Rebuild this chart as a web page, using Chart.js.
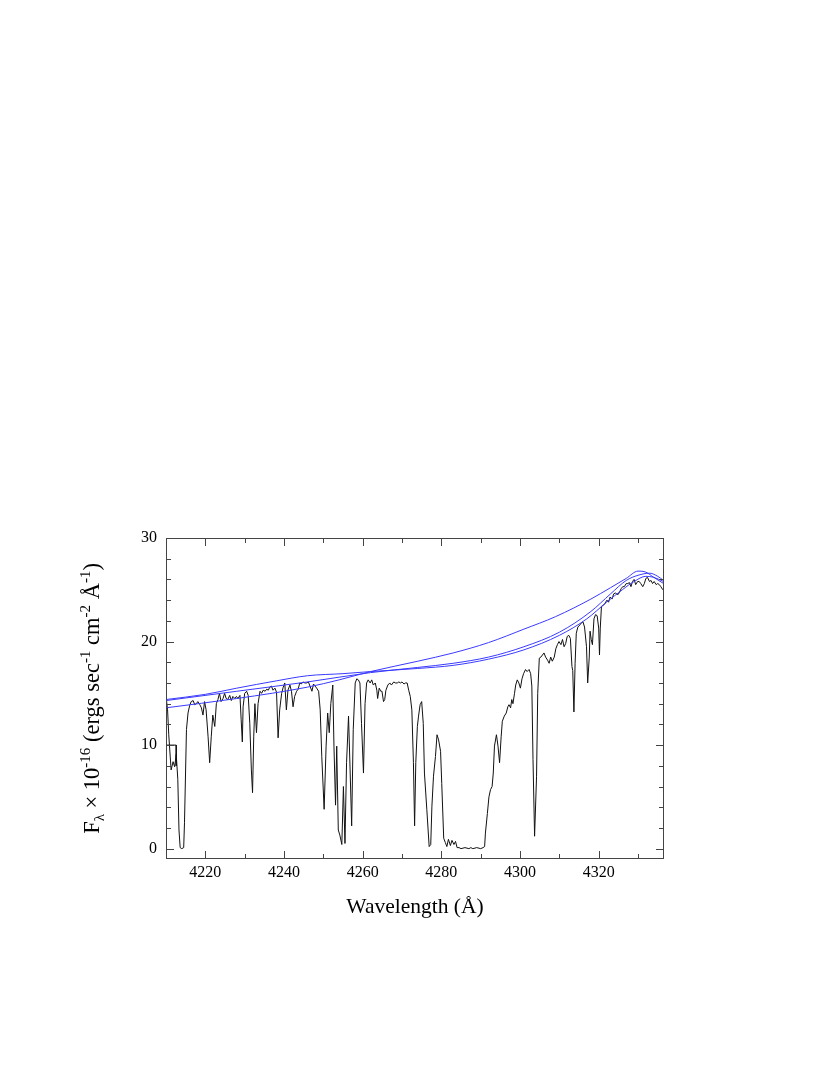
<!DOCTYPE html>
<html>
<head>
<meta charset="utf-8">
<script src="https://cdn.jsdelivr.net/npm/chart.js@4.4.0/dist/chart.umd.min.js"></script>
<style>
html,body{margin:0;padding:0;background:#fff;}
canvas{display:block;}
</style>
</head>
<body>
<canvas id="c" width="830" height="1075"></canvas>
<script>
// ---- Observed spectrum (wavelength in Å, flux ×1e-16) ----
const specWave = [4210.1,4210.4,4210.7,4211.3,4211.8,4212.2,4212.6,4213.0,4213.3,4213.6,4214.0,4214.5,4214.7,4215.2,4215.6,4216.0,4216.4,4216.9,4217.3,4217.7,4218.1,4218.6,4219.0,4219.4,4219.8,4220.2,4220.7,4221.1,4221.5,4221.9,4222.4,4222.8,4223.2,4223.6,4224.0,4224.5,4224.9,4225.3,4225.7,4226.2,4226.6,4227.0,4227.5,4227.9,4228.3,4228.8,4229.1,4229.4,4229.6,4230.0,4230.5,4230.9,4231.3,4231.7,4232.0,4232.3,4232.6,4233.0,4233.4,4233.9,4234.3,4234.7,4235.2,4235.6,4236.0,4236.4,4236.8,4237.2,4237.7,4238.1,4238.5,4238.9,4239.4,4239.8,4240.2,4240.6,4241.0,4241.5,4241.9,4242.3,4242.7,4243.2,4243.6,4244.0,4244.4,4244.8,4245.3,4245.7,4246.2,4246.6,4247.1,4247.5,4247.9,4248.3,4248.8,4249.2,4249.6,4250.2,4250.7,4251.1,4251.5,4251.9,4252.4,4252.7,4253.1,4253.4,4253.8,4254.2,4254.7,4255.1,4255.5,4255.9,4256.4,4256.8,4257.2,4257.6,4258.1,4258.5,4258.9,4259.3,4259.7,4260.2,4260.6,4261.0,4261.4,4261.9,4262.3,4262.7,4263.2,4263.6,4263.8,4264.2,4264.6,4264.9,4265.3,4265.6,4265.9,4266.4,4266.9,4267.3,4267.9,4268.3,4268.8,4269.2,4269.6,4270.0,4270.5,4270.9,4271.3,4271.7,4272.1,4272.5,4272.9,4273.2,4273.5,4273.9,4274.2,4274.6,4275.0,4275.4,4275.7,4276.3,4276.9,4277.3,4277.6,4278.0,4278.5,4278.9,4279.3,4279.8,4280.1,4280.6,4281.0,4281.4,4281.8,4282.3,4282.7,4283.2,4283.6,4284.0,4284.5,4285.0,4286.0,4287.0,4287.5,4288.0,4289.0,4290.0,4290.6,4291.0,4291.2,4291.7,4292.1,4292.5,4292.9,4293.2,4293.5,4294.0,4294.4,4294.8,4295.2,4295.5,4296.0,4296.5,4296.9,4297.2,4297.6,4297.9,4298.2,4298.6,4298.9,4299.3,4299.7,4300.1,4300.5,4300.9,4301.4,4301.8,4302.3,4302.7,4303.0,4303.3,4303.7,4304.2,4304.5,4304.9,4305.3,4305.7,4306.1,4306.5,4307.0,4307.4,4307.8,4308.2,4308.7,4309.1,4309.5,4309.9,4310.4,4310.8,4311.2,4311.6,4312.0,4312.4,4312.8,4313.2,4313.4,4313.7,4314.0,4314.3,4314.7,4315.2,4315.6,4316.0,4316.4,4316.9,4317.2,4317.6,4317.8,4318.1,4318.4,4318.8,4319.2,4319.6,4320.0,4320.2,4320.4,4320.7,4321.2,4321.6,4322.1,4322.5,4322.9,4323.4,4323.8,4324.3,4324.8,4325.2,4325.7,4326.1,4326.5,4327.0,4327.4,4327.8,4328.2,4328.6,4329.0,4329.4,4329.9,4330.3,4330.7,4331.2,4331.6,4332.0,4332.4,4332.9,4333.3,4333.7,4334.1,4334.6,4335.0,4335.4,4335.8,4336.3];
const specFlux = [14.4,13.4,11.0,7.6,8.4,7.9,9.1,6.7,1.8,0.1,0.0,0.1,2.5,11.5,13.1,13.8,14.2,14.3,13.9,14.0,14.2,13.9,13.6,12.9,14.2,13.4,10.8,8.3,10.8,12.9,11.8,14.0,14.4,15.0,14.2,14.5,15.0,14.5,14.4,14.8,14.3,14.7,14.5,14.7,14.5,14.8,12.5,10.3,13.7,15.0,15.2,14.8,12.1,7.6,5.4,10.8,14.0,11.2,14.0,15.2,15.0,15.3,15.2,15.4,15.3,15.6,15.7,15.3,15.5,15.1,10.7,13.4,15.0,15.6,16.0,13.4,15.3,15.8,15.2,13.7,14.7,15.2,15.4,16.0,15.9,16.1,16.0,16.0,16.1,15.7,15.2,15.9,15.7,15.5,15.2,13.4,8.9,3.8,9.9,13.1,11.2,14.0,15.8,9.9,4.2,9.9,1.8,1.3,0.4,6.0,0.5,8.3,12.8,7.6,2.2,11.5,16.0,16.4,16.3,16.0,12.1,7.3,14.0,16.0,16.3,16.0,16.3,15.8,16.0,15.3,14.5,15.5,15.2,15.2,14.2,14.4,15.3,15.8,16.0,15.8,16.1,16.0,16.0,16.1,16.0,16.1,15.9,16.0,16.0,15.3,14.7,13.4,8.3,2.2,8.3,11.8,12.8,13.9,14.2,12.1,7.3,3.8,0.2,0.4,4.1,7.0,8.9,11.0,10.5,9.4,6.3,1.0,0.6,0.2,0.9,0.3,0.8,0.4,0.7,0.1,0.1,0.0,0.1,0.0,0.1,0.0,0.1,0.0,0.1,0.2,1.5,3.4,5.0,5.7,6.0,7.3,9.9,11.0,9.9,8.3,10.8,12.3,12.8,13.1,13.7,13.9,13.6,14.4,14.0,15.0,15.8,16.3,16.0,15.5,16.4,16.9,17.3,17.1,17.3,16.9,15.7,8.6,1.2,7.0,15.0,18.4,18.5,18.7,18.9,18.5,18.2,17.9,18.5,18.1,18.5,19.3,19.7,20.0,19.7,20.2,19.5,19.8,20.5,20.6,20.3,17.6,17.2,13.2,17.9,20.8,21.4,21.6,21.8,21.9,21.4,19.5,16.0,18.5,21.0,20.2,19.7,22.2,22.6,22.5,21.3,18.7,21.3,23.4,23.5,23.7,24.0,23.8,24.3,24.1,24.6,24.7,24.5,24.7,25.1,25.3,25.3,25.6,25.6,25.7,25.3,25.8,26.0,25.5,25.8,25.8,25.6,25.3,25.6,26.1,26.2,25.8,25.9,25.6,25.8,25.5,25.6,25.5,25.3,25.0];

// small stray step drawn at the left edge of the spectrum
const stepWave = [4210.0, 4212.6, 4212.6];
const stepFlux = [10.0, 10.0, 8.0];

// ---- Model continuum curves ----
const modelAWave = [4210,4220,4228,4238,4246,4255,4262,4274,4283,4292,4301,4310,4317,4322,4326,4329,4332,4334,4336.5];
const modelAFlux = [14.4,14.9,15.5,16.2,16.7,16.9,17.1,17.4,17.7,18.3,19.2,20.6,22.2,23.8,25.0,25.8,26.3,26.2,25.8];
const modelBWave = [4210,4228,4246,4262,4274,4283,4292,4301,4310,4318,4323,4327,4330,4333,4335,4336.5];
const modelBFlux = [14.3,15.2,16.1,17.0,17.5,17.9,18.5,19.5,20.9,22.9,24.6,25.9,26.4,26.6,26.3,25.9];
const modelCWave = [4210,4228,4246,4254,4262,4274,4283,4292,4301,4309,4318,4323,4327,4330,4332,4334,4336.5];
const modelCFlux = [13.6,14.5,15.6,16.3,17.1,18.1,18.9,19.9,21.2,22.4,24.1,25.2,26.1,26.8,26.7,26.2,25.6];

// ---- Axes ----
const xMin = 4210, xMax = 4336.6;
const yMin = -1, yMax = 30;
const xTickLabels = [4220, 4240, 4260, 4280, 4300, 4320];
const yTickLabels = [0, 10, 20, 30];
const xMinorStep = 10, yMinorStep = 2;

function pts(xs, ys){ return xs.map((x,i)=>({x:x, y:ys[i]})); }

const SERIF = '"Liberation Serif","DejaVu Serif",serif';

const framePlugin = {
  id: 'frame',
  afterDatasetsDraw(chart){
    const ctx = chart.ctx, a = chart.chartArea;
    const xs = chart.scales.x, ys = chart.scales.y;
    ctx.save();
    ctx.strokeStyle = '#444';
    ctx.lineWidth = 1;
    ctx.strokeRect(a.left+0.5, a.top+0.5, a.right-a.left-1, a.bottom-a.top-1);
    ctx.beginPath();
    for (let v = Math.ceil(xMin/xMinorStep)*xMinorStep; v <= xMax; v += xMinorStep){
      const p = Math.round(xs.getPixelForValue(v))+0.5;
      if (p <= a.left+1 || p >= a.right-1) continue;
      const L = (v % 20 === 0) ? 8 : 5;
      ctx.moveTo(p, a.bottom); ctx.lineTo(p, a.bottom-L);
      ctx.moveTo(p, a.top); ctx.lineTo(p, a.top+L);
    }
    for (let v = 0; v <= yMax; v += yMinorStep){
      const p = Math.round(ys.getPixelForValue(v))+0.5;
      const L = (v % 10 === 0) ? 8 : 5;
      ctx.moveTo(a.left, p); ctx.lineTo(a.left+L, p);
      ctx.moveTo(a.right, p); ctx.lineTo(a.right-L, p);
    }
    ctx.stroke();
    ctx.restore();
  },
  afterDraw(chart){
    const ctx = chart.ctx, a = chart.chartArea;
    ctx.save();
    ctx.fillStyle = '#000';
    // x title
    ctx.font = '21.5px ' + SERIF;
    ctx.textAlign = 'center';
    ctx.textBaseline = 'middle';
    ctx.fillText('Wavelength (Å)', (a.left+a.right)/2, 907);
    // y title with sub/superscripts
    const big = '22.5px ' + SERIF, small = '15px ' + SERIF;
    const segs = [
      ['F', big, 0], ['λ', small, 5], [' × 10', big, 0], ['-16', small, -9],
      [' (ergs sec', big, 0], ['-1', small, -9], [' cm', big, 0], ['-2', small, -9],
      [' Å', big, 0], ['-1', small, -9], [')', big, 0]
    ];
    let total = 0;
    segs.forEach(s => { ctx.font = s[1]; total += ctx.measureText(s[0]).width; });
    ctx.translate(91, (a.top+a.bottom)/2);
    ctx.rotate(-Math.PI/2);
    ctx.textAlign = 'left';
    ctx.textBaseline = 'alphabetic';
    let x = -total/2;
    segs.forEach(s => { ctx.font = s[1]; ctx.fillText(s[0], x, 8 + s[2]); x += ctx.measureText(s[0]).width; });
    ctx.restore();
  }
};

new Chart(document.getElementById('c'), {
  type: 'line',
  data: {
    datasets: [
      { data: pts(modelAWave, modelAFlux), borderColor: '#3a3aff', borderWidth: 1, pointRadius: 0, cubicInterpolationMode: 'monotone' },
      { data: pts(modelBWave, modelBFlux), borderColor: '#3a3aff', borderWidth: 1, pointRadius: 0, cubicInterpolationMode: 'monotone' },
      { data: pts(modelCWave, modelCFlux), borderColor: '#3a3aff', borderWidth: 1, pointRadius: 0, cubicInterpolationMode: 'monotone' },
      { data: pts(specWave, specFlux), borderColor: '#111', borderWidth: 1, pointRadius: 0, tension: 0 },
      { data: pts(stepWave, stepFlux), borderColor: '#111', borderWidth: 1, pointRadius: 0, tension: 0 }
    ]
  },
  options: {
    responsive: false,
    animation: false,
    events: [],
    layout: { padding: { left: 0, right: 166, top: 538, bottom: 0 } },
    plugins: { legend: { display: false }, tooltip: { enabled: false } },
    scales: {
      x: {
        type: 'linear', min: xMin, max: xMax,
        grid: { display: false, drawTicks: false },
        border: { display: false },
        afterFit(s){ s.height = 216; },
        afterBuildTicks(s){ s.ticks = xTickLabels.map(v => ({value: v})); },
        ticks: { color: '#000', padding: 4, font: { family: SERIF, size: 16 }, maxRotation: 0, callback: v => String(v) }
      },
      y: {
        type: 'linear', min: yMin, max: yMax,
        grid: { display: false, drawTicks: false },
        border: { display: false },
        afterFit(s){ s.width = 166; },
        afterBuildTicks(s){ s.ticks = yTickLabels.map(v => ({value: v})); },
        ticks: { color: '#000', padding: 9, font: { family: SERIF, size: 16 }, callback: v => String(v) }
      }
    }
  },
  plugins: [framePlugin]
});
</script>
</body>
</html>
